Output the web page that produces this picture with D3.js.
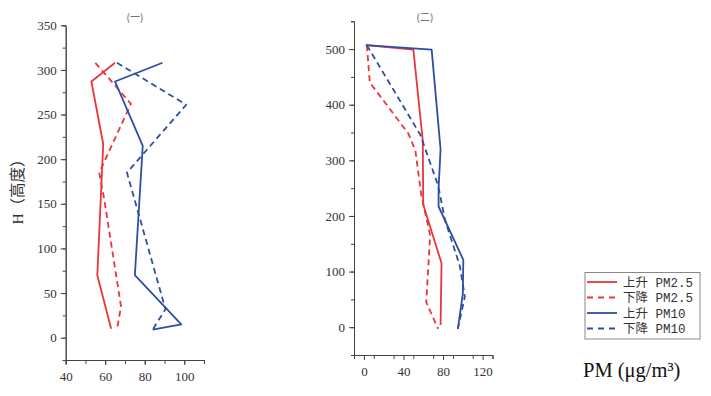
<!DOCTYPE html>
<html>
<head>
<meta charset="utf-8">
<script src="https://cdn.jsdelivr.net/npm/d3@7"></script>
<style>
  body { margin: 0; background: #fff; }
  .tick text { font-family: "Liberation Serif", "DejaVu Serif", serif; font-size: 13px; fill: #333; }
  .domain, .tick line { stroke: #444; }
</style>
</head>
<body>
<svg id="chart" width="711" height="396"></svg>
<script>
// panel (一): [PM, height]
const riseP25A = [[63, 10], [56, 70], [59, 217], [53, 287], [65, 308]];
const fallP25A = [[55, 308], [73, 262], [57, 185], [59.5, 155], [68, 35], [66, 10]];
const riseP10A = [[89, 308], [65, 287], [79, 215], [75, 70], [98.5, 15], [84, 9]];
const fallP10A = [[66, 308], [101, 261], [71, 185], [90.5, 32], [84, 9]];

// panel (二)
const riseP25B = [[2, 507], [50, 499], [59.5, 336], [60, 220], [78.5, 115], [77.5, 4]];
const fallP25B = [[3, 507], [6, 440], [45, 348], [52, 318], [58, 238], [67, 165], [63, 45], [75, -3]];
const riseP10B = [[2, 507], [68.5, 499], [77.5, 320], [75.5, 250], [75.5, 217], [100.5, 121], [100, 60], [95, -3]];
const fallP10B = [[3, 507], [57, 346], [75, 255], [82, 193], [97, 110], [102, 55], [95, -3]];

const xTicksA = [40, 60, 80, 100];
const yTicksA = [0, 50, 100, 150, 200, 250, 300, 350];
const xTicksB = [0, 40, 80, 120];
const yTicksB = [0, 100, 200, 300, 400, 500];

const legendLabels = ["上升 PM2.5", "下降 PM2.5", "上升 PM10", "下降 PM10"];

const RED = "#e8363c", BLUE = "#2f4ea3";

const svg = d3.select("#chart");

function panel(opt) {
  const x = d3.scaleLinear().domain(opt.xDomain).range(opt.xRange);
  const y = d3.scaleLinear().domain(opt.yDomain).range(opt.yRange);

  // minor ticks
  svg.append("g")
    .attr("transform", `translate(${opt.xRange[0]},0)`)
    .call(d3.axisLeft(y).tickValues(d3.range(opt.yDomain[0], opt.yDomain[1] + 1, opt.yMinor)).tickSize(3).tickFormat(""));
  svg.append("g")
    .attr("transform", `translate(0,${opt.yRange[0]})`)
    .call(d3.axisBottom(x).tickValues(d3.range(opt.xDomain[0], opt.xDomain[1] + 1, opt.xMinor)).tickSize(4).tickFormat(""));

  svg.append("g")
    .attr("transform", `translate(${opt.xRange[0]},0)`)
    .call(d3.axisLeft(y).tickValues(opt.yTicks).tickSize(5).tickSizeOuter(0).tickPadding(4));
  svg.append("g")
    .attr("transform", `translate(0,${opt.yRange[0]})`)
    .call(d3.axisBottom(x).tickValues(opt.xTicks).tickSize(5).tickSizeOuter(0).tickPadding(7));

  const line = d3.line().x(d => x(d[0])).y(d => y(d[1]));
  opt.series.forEach(s => {
    svg.append("path")
      .datum(s.data)
      .attr("d", line)
      .attr("fill", "none")
      .attr("stroke", s.color)
      .attr("stroke-width", 1.8)
      .attr("stroke-linejoin", "round")
      .attr("stroke-dasharray", s.dash ? "6,4" : null);
  });

  svg.append("text")
    .attr("x", opt.titleX).attr("y", 21)
    .attr("text-anchor", "middle")
    .style("font-family", "'Noto Sans CJK SC', sans-serif")
    .style("font-size", "10px")
    .style("fill", "#555")
    .text(opt.title);
}

panel({
  xDomain: [40, 110], xRange: [65.7, 204], xTicks: xTicksA, xMinor: 10,
  yDomain: [-25, 350], yRange: [360, 25.3], yTicks: yTicksA, yMinor: 25,
  title: "(一)", titleX: 135,
  series: [
    { data: riseP25A, color: RED }, { data: fallP25A, color: RED, dash: true },
    { data: riseP10A, color: BLUE }, { data: fallP10A, color: BLUE, dash: true }
  ]
});

panel({
  xDomain: [-10, 130], xRange: [354, 492.5], xTicks: xTicksB, xMinor: 20,
  yDomain: [-50, 550], yRange: [355, 21.3], yTicks: yTicksB, yMinor: 50,
  title: "(二)", titleX: 425,
  series: [
    { data: riseP25B, color: RED }, { data: fallP25B, color: RED, dash: true },
    { data: riseP10B, color: BLUE }, { data: fallP10B, color: BLUE, dash: true }
  ]
});

// y label
svg.append("text")
  .attr("transform", "translate(23,188) rotate(-90)")
  .attr("text-anchor", "middle")
  .style("font-family", "'Liberation Serif', 'Noto Sans CJK SC', serif")
  .style("font-size", "15.5px")
  .style("fill", "#333")
  .text("H（高度）");

// legend
const lg = svg.append("g").attr("transform", "translate(585,272.5)");
lg.append("rect").attr("width", 115).attr("height", 66.5)
  .attr("fill", "#fff").attr("stroke", "#888").attr("stroke-width", 1);
const legendStyles = [
  { color: RED, dash: false }, { color: RED, dash: true },
  { color: BLUE, dash: false }, { color: BLUE, dash: true }
];
legendLabels.forEach((t, i) => {
  const yy = 9.5 + i * 15.5;
  lg.append("line").attr("x1", 2).attr("x2", 32).attr("y1", yy).attr("y2", yy)
    .attr("stroke", legendStyles[i].color).attr("stroke-width", 1.8)
    .attr("stroke-dasharray", legendStyles[i].dash ? "6,5" : null);
  lg.append("text").attr("x", 38).attr("y", yy + 4.5)
    .style("font-family", "'Liberation Mono', 'Noto Sans CJK SC', monospace")
    .style("font-size", "12.5px")
    .style("fill", "#333")
    .text(t);
});

svg.append("text")
  .attr("x", 583).attr("y", 377)
  .style("font-family", "'Liberation Serif', 'DejaVu Serif', serif")
  .style("font-size", "20.5px")
  .style("fill", "#111")
  .text("PM (μg/m³)");
</script>
</body>
</html>
